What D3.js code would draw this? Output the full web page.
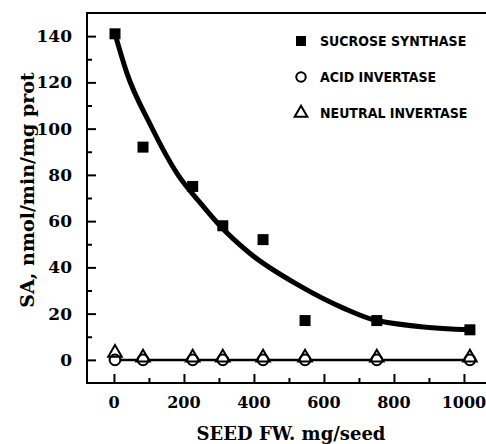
<!DOCTYPE html>
<html>
<head>
<meta charset="utf-8">
<script src="https://cdn.jsdelivr.net/npm/d3@7"></script>
<style>
  body { margin: 0; background: #fff; }
  svg { display: block; }
</style>
</head>
<body>
<div id="chart"></div>
<script>
(function(d3) {
    'use strict';

    // measured points
    var seedFW = [3, 83, 225, 311, 426, 546, 751, 1017];
    var sucroseSynthase = [141, 92, 75, 58, 52, 17, 17, 13];
    var acidInvertase = [0, 0, 0, 0, 0, 0, 0, 0];
    var neutralInvertase = [3, 1, 1, 1, 1, 1, 1, 1];

    // fitted curve
    var fitX = [3, 37, 103, 183, 246, 303, 389, 531, 654, 751, 1017];
    var fitY = [141, 124, 102, 80, 68, 58, 46, 32, 22.5, 17, 13];

    var xTicks = [0, 200, 400, 600, 800, 1000];
    var xMinor = [100, 300, 500, 700, 900];
    var yTicks = [0, 20, 40, 60, 80, 100, 120, 140];
    var yMinor = [10, 30, 50, 70, 90, 110, 130];

    var legendLabels = ['SUCROSE SYNTHASE', 'ACID INVERTASE', 'NEUTRAL INVERTASE'];

    var width = 486,
        height = 444;

    var left = 87, top = 13, right = 486, bottom = 383;

    var x = d3.scaleLinear().domain([-77, 1063]).range([left, right]);
    var y = d3.scaleLinear().domain([-10, 150]).range([bottom, top]);

    var svg = d3.select('#chart').append('svg')
        .attr('width', width)
        .attr('height', height);

    var serif = '"DejaVu Serif", serif';

    // frame
    svg.append('path')
        .attr('d', 'M' + right + ',' + top + 'H' + left + 'V' + bottom + 'H' + right)
        .attr('fill', 'none')
        .attr('stroke', '#000')
        .attr('stroke-width', 2);

    // y axis ticks (inward)
    var yAxis = svg.append('g')
        .attr('transform', 'translate(' + left + ',0)')
        .call(d3.axisRight(y).tickValues(yTicks).tickSize(9).tickFormat(''));
    yAxis.select('.domain').remove();
    yAxis.selectAll('line').attr('stroke-width', 2);

    var yAxisMinor = svg.append('g')
        .attr('transform', 'translate(' + left + ',0)')
        .call(d3.axisRight(y).tickValues(yMinor).tickSize(5).tickFormat(''));
    yAxisMinor.select('.domain').remove();
    yAxisMinor.selectAll('line').attr('stroke-width', 2);

    svg.append('g').selectAll('text')
        .data(yTicks)
        .enter()
        .append('text')
        .attr('x', 72)
        .attr('y', function(d) { return y(d); })
        .attr('dy', '0.36em')
        .attr('text-anchor', 'end')
        .style('font', 'bold 17px ' + serif)
        .text(function(d) { return d; });

    // x axis ticks (inward)
    var xAxis = svg.append('g')
        .attr('transform', 'translate(0,' + bottom + ')')
        .call(d3.axisTop(x).tickValues(xTicks).tickSize(9).tickFormat(''));
    xAxis.select('.domain').remove();
    xAxis.selectAll('line').attr('stroke-width', 2);

    var xAxisMinor = svg.append('g')
        .attr('transform', 'translate(0,' + bottom + ')')
        .call(d3.axisTop(x).tickValues(xMinor).tickSize(5).tickFormat(''));
    xAxisMinor.select('.domain').remove();
    xAxisMinor.selectAll('line').attr('stroke-width', 2);

    svg.append('g').selectAll('text')
        .data(xTicks)
        .enter()
        .append('text')
        .attr('x', function(d) { return x(d); })
        .attr('y', 408)
        .attr('text-anchor', 'middle')
        .style('font', 'bold 16px ' + serif)
        .text(function(d) { return d; });

    // axis titles
    svg.append('text')
        .attr('x', 291)
        .attr('y', 440)
        .attr('text-anchor', 'middle')
        .style('font', 'bold 18px ' + serif)
        .text('SEED FW. mg/seed');

    svg.append('text')
        .attr('transform', 'translate(34,190) rotate(-90)')
        .attr('text-anchor', 'middle')
        .style('font', 'bold 19px ' + serif)
        .text('SA, nmol/min/mg prot');

    // curves
    var fit = fitX.map(function(d, i) { return [d, fitY[i]]; });
    var line = d3.line()
        .x(function(d) { return x(d[0]); })
        .y(function(d) { return y(d[1]); })
        .curve(d3.curveMonotoneX);

    svg.append('path')
        .datum(fit)
        .attr('d', line)
        .attr('fill', 'none')
        .attr('stroke', '#000')
        .attr('stroke-width', 5);

    svg.append('path')
        .datum(seedFW.map(function(d, i) { return [d, acidInvertase[i]]; }))
        .attr('d', line)
        .attr('fill', 'none')
        .attr('stroke', '#000')
        .attr('stroke-width', 2.5);

    // markers
    var square = d3.symbol().type(d3.symbolSquare).size(121);
    var circle = d3.symbol().type(d3.symbolCircle).size(90);
    var triangle = d3.symbol().type(d3.symbolTriangle).size(80);

    svg.append('g').selectAll('path')
        .data(seedFW)
        .enter()
        .append('path')
        .attr('d', circle)
        .attr('transform', function(d, i) { return 'translate(' + x(d) + ',' + y(acidInvertase[i]) + ')'; })
        .attr('fill', '#fff')
        .attr('stroke', '#000')
        .attr('stroke-width', 2);

    svg.append('g').selectAll('path')
        .data(seedFW)
        .enter()
        .append('path')
        .attr('d', triangle)
        .attr('transform', function(d, i) { return 'translate(' + x(d) + ',' + y(neutralInvertase[i]) + ')'; })
        .attr('fill', 'none')
        .attr('stroke', '#000')
        .attr('stroke-width', 2);

    svg.append('g').selectAll('path')
        .data(seedFW)
        .enter()
        .append('path')
        .attr('d', square)
        .attr('transform', function(d, i) { return 'translate(' + x(d) + ',' + y(sucroseSynthase[i]) + ')'; })
        .attr('fill', '#000');

    // legend
    var legendSymbols = [
        { sym: d3.symbol().type(d3.symbolSquare).size(100), fill: '#000' },
        { sym: d3.symbol().type(d3.symbolCircle).size(70), fill: 'none' },
        { sym: d3.symbol().type(d3.symbolTriangle).size(70), fill: 'none' }
    ];

    var legend = svg.selectAll('.legend')
        .data(legendLabels)
        .enter()
        .append('g')
        .attr('class', 'legend')
        .attr('transform', function(d, i) {
            return 'translate(301,' + (41 + i * 36) + ')';
        });

    legend.append('path')
        .attr('d', function(d, i) { return legendSymbols[i].sym(); })
        .attr('fill', function(d, i) { return legendSymbols[i].fill; })
        .attr('stroke', '#000')
        .attr('stroke-width', function(d, i) { return i ? 2 : 0; });

    legend.append('text')
        .attr('x', 19)
        .attr('dy', '0.36em')
        .style('font', 'bold 14px "DejaVu Sans Condensed", sans-serif')
        .text(function(d) { return d; });

})(window.d3);
</script>
</body>
</html>
